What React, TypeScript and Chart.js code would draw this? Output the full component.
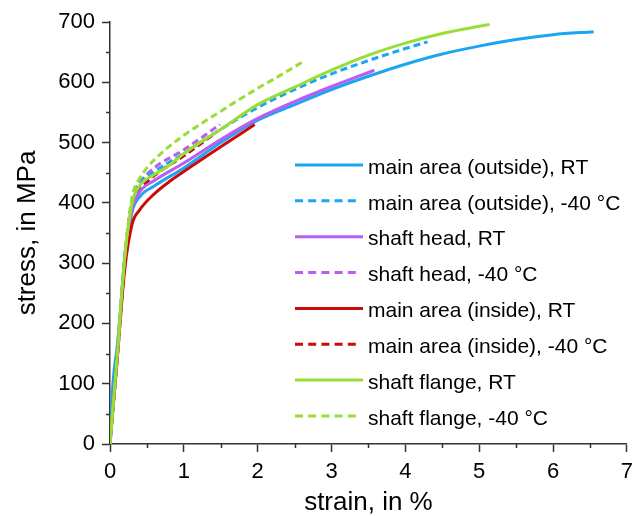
import React, { useEffect, useRef } from 'react';
import { Chart, registerables } from 'chart.js';

Chart.register(...registerables);

const FONT = '"Liberation Sans", Arial, Helvetica, sans-serif';
const AXIS_COLOR = '#333333';

// Series meta
const seriesLabels = [
  'main area (outside), RT',
  'main area (outside), -40 °C',
  'shaft head, RT',
  'shaft head, -40 °C',
  'main area (inside), RT',
  'main area (inside), -40 °C',
  'shaft flange, RT',
  'shaft flange, -40 °C',
];
const seriesColors = [
  '#1AA6F2', '#1AA6F2',
  '#BB5CF2', '#BB5CF2',
  '#CC0A0A', '#CC0A0A',
  '#99DE36', '#99DE36',
];
const seriesDashed = [false, true, false, true, false, true, false, true];
const drawOrder = [5, 4, 3, 6, 2, 7, 0, 1];

// main area (outside), RT
const strainOutsideRT = [0, 0.04, 0.1, 0.2, 0.3, 0.4, 0.6, 1.0, 1.5, 2.0, 2.5, 3.0, 3.5, 4.0, 4.5, 5.0, 5.5, 6.0, 6.55];
const stressOutsideRT = [0, 100, 165, 300, 385, 410, 428, 458, 500, 537, 563, 588, 610, 630, 647, 660, 671, 679, 684];
// main area (outside), -40 °C
const strainOutsideCold = [0, 0.1, 0.2, 0.3, 0.4, 0.6, 1.0, 1.5, 2.0, 2.5, 3.0, 3.5, 4.0, 4.3];
const stressOutsideCold = [0, 150, 310, 405, 432, 452, 482, 522, 558, 588, 614, 636, 656, 667];
// shaft head, RT
const strainHeadRT = [0, 0.1, 0.2, 0.3, 0.4, 0.6, 1.0, 1.5, 2.0, 2.5, 3.0, 3.58];
const stressHeadRT = [0, 150, 305, 390, 418, 437, 466, 505, 540, 568, 593, 620];
// shaft head, -40 °C
const strainHeadCold = [0, 0.1, 0.2, 0.3, 0.4, 0.6, 1.0, 1.49];
const stressHeadCold = [0, 150, 310, 405, 432, 458, 488, 530];
// main area (inside), RT
const strainInsideRT = [0, 0.1, 0.2, 0.3, 0.4, 0.6, 0.8, 1.0, 1.5, 1.96];
const stressInsideRT = [0, 145, 290, 365, 388, 415, 435, 452, 493, 530];
// main area (inside), -40 °C
const strainInsideCold = [0, 0.1, 0.2, 0.3, 0.4, 0.6, 1.0, 1.42];
const stressInsideCold = [0, 145, 300, 395, 420, 445, 478, 515];
// shaft flange, RT
const strainFlangeRT = [0, 0.1, 0.2, 0.3, 0.4, 0.6, 0.8, 1.0, 1.5, 2.0, 2.5, 3.0, 3.5, 4.0, 4.5, 5.0, 5.14];
const stressFlangeRT = [0, 150, 310, 400, 428, 447, 462, 482, 522, 563, 592, 620, 645, 665, 681, 693, 696];
// shaft flange, -40 °C
const strainFlangeCold = [0, 0.1, 0.2, 0.3, 0.4, 0.5, 0.7, 1.0, 1.5, 2.0, 2.3, 2.61];
const stressFlangeCold = [0, 150, 310, 410, 440, 458, 483, 512, 552, 590, 611, 634];

// Axes
const xMin = 0, xMax = 7, xStep = 1;
const yMin = 0, yMax = 700, yStep = 100;
const xMinorTicks = [0.5, 1.5, 2.5, 3.5, 4.5, 5.5, 6.5];
const yMinorTicks = [50, 150, 250, 350, 450, 550, 650];
const xTitle = 'strain, in %';
const yTitle = 'stress, in MPa';

if (typeof document !== 'undefined' && document.body) {
  document.body.style.margin = '0';
}

export default function App() {
  const canvasRef = useRef<HTMLCanvasElement | null>(null);

  useEffect(() => {
    document.body.style.margin = '0';
    const canvas = canvasRef.current;
    if (!canvas) return;

    const series = [
      [strainOutsideRT, stressOutsideRT],
      [strainOutsideCold, stressOutsideCold],
      [strainHeadRT, stressHeadRT],
      [strainHeadCold, stressHeadCold],
      [strainInsideRT, stressInsideRT],
      [strainInsideCold, stressInsideCold],
      [strainFlangeRT, stressFlangeRT],
      [strainFlangeCold, stressFlangeCold],
    ];

    const datasets = series.map(([xs, ys], i) => ({
      label: seriesLabels[i],
      data: xs.map((x, k) => ({ x, y: ys[k] })),
      borderColor: seriesColors[i],
      backgroundColor: seriesColors[i],
      borderWidth: 3,
      borderDash: seriesDashed[i] ? [7, 4] : [],
      pointRadius: 0,
      pointHoverRadius: 0,
      showLine: true,
      fill: false,
      cubicInterpolationMode: 'monotone' as const,
      order: drawOrder[i],
    }));

    const minorTicksPlugin = {
      id: 'minorTicks',
      afterDraw(chart: any) {
        const ctx = chart.ctx;
        const xs = chart.scales.x;
        const ys = chart.scales.y;
        ctx.save();
        ctx.strokeStyle = AXIS_COLOR;
        ctx.lineWidth = 1.5;
        ctx.beginPath();
        xMinorTicks.forEach((v) => {
          const p = Math.round(xs.getPixelForValue(v)) + 0.5;
          ctx.moveTo(p, xs.top);
          ctx.lineTo(p, xs.top + 4);
        });
        yMinorTicks.forEach((v) => {
          const p = Math.round(ys.getPixelForValue(v)) + 0.5;
          ctx.moveTo(ys.right, p);
          ctx.lineTo(ys.right - 4, p);
        });
        ctx.stroke();
        ctx.restore();
      },
    };

    const legendPlugin = {
      id: 'insideLegend',
      afterDraw(chart: any) {
        const ctx = chart.ctx;
        const x0 = 295;
        const x1 = 363;
        const tx = 368;
        const y0 = 165;
        const dy = 35.85;
        ctx.save();
        ctx.font = `21px ${FONT}`;
        ctx.textBaseline = 'middle';
        ctx.textAlign = 'left';
        seriesLabels.forEach((label, i) => {
          const y = y0 + i * dy;
          ctx.strokeStyle = seriesColors[i];
          ctx.lineWidth = 3;
          ctx.setLineDash(seriesDashed[i] ? [8, 5.2] : []);
          ctx.beginPath();
          ctx.moveTo(x0, y);
          ctx.lineTo(seriesDashed[i] ? x1 - 7 : x1, y);
          ctx.stroke();
          ctx.setLineDash([]);
          ctx.fillStyle = '#000';
          ctx.fillText(label, tx, y + 3);
        });
        ctx.restore();
      },
    };

    const chart = new Chart(canvas, {
      type: 'scatter',
      data: { datasets: datasets as any },
      plugins: [minorTicksPlugin, legendPlugin],
      options: {
        animation: false,
        responsive: true,
        maintainAspectRatio: false,
        layout: {
          autoPadding: false,
          padding: { top: 22, right: 12, left: 0, bottom: 0 },
        },
        plugins: {
          legend: { display: false },
          tooltip: { enabled: false },
        },
        scales: {
          x: {
            type: 'linear',
            min: xMin,
            max: xMax,
            afterFit: (scale: any) => { scale.height = 72; },
            ticks: {
              stepSize: xStep,
              color: '#000',
              padding: 7,
              font: { family: FONT, size: 22 },
              maxRotation: 0,
            },
            grid: {
              display: true,
              drawOnChartArea: false,
              drawTicks: true,
              tickLength: 8,
              tickColor: AXIS_COLOR,
              tickWidth: 1.5,
            },
            border: { display: true, color: AXIS_COLOR, width: 1.5 },
            title: {
              display: true,
              text: xTitle,
              color: '#000',
              font: { family: FONT, size: 26, lineHeight: 1 },
              padding: { top: 0, bottom: 0 },
            },
          },
          y: {
            type: 'linear',
            min: yMin,
            max: yMax,
            afterFit: (scale: any) => { scale.width = 110; },
            ticks: {
              stepSize: yStep,
              color: '#000',
              padding: 7,
              font: { family: FONT, size: 22 },
            },
            grid: {
              display: true,
              drawOnChartArea: false,
              drawTicks: true,
              tickLength: 8,
              tickColor: AXIS_COLOR,
              tickWidth: 1.5,
            },
            border: { display: true, color: AXIS_COLOR, width: 1.5 },
            title: {
              display: true,
              text: yTitle,
              color: '#000',
              font: { family: FONT, size: 26, lineHeight: 1 },
              padding: { top: 15, bottom: 0 },
            },
          },
        },
      },
    });

    return () => {
      chart.destroy();
    };
  }, []);

  return (
    <div style={{ position: 'relative', width: 640, height: 516 }}>
      <canvas ref={canvasRef} />
    </div>
  );
}
